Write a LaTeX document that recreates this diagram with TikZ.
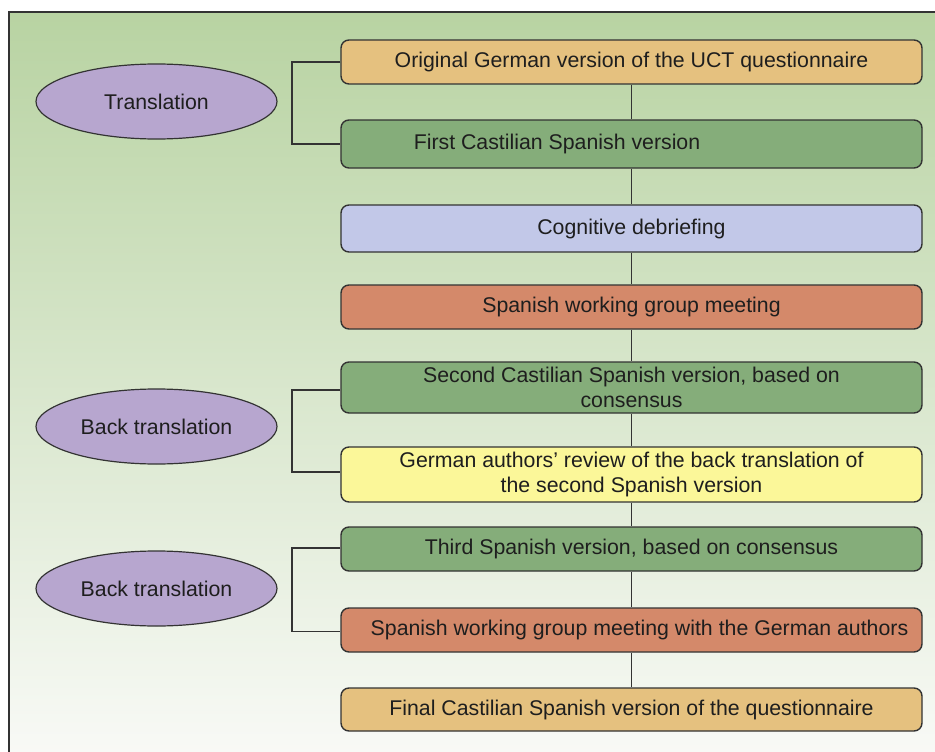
\documentclass[tikz,border=0pt]{standalone}
\usepackage{fontspec}
\setmainfont{Liberation Sans}
\usetikzlibrary{shapes.geometric}
\definecolor{bgtop}{HTML}{B8D3A2}
\definecolor{bgbot}{HTML}{F9FAF7}
\definecolor{cOrange}{HTML}{E5C17F}
\definecolor{cGreen}{HTML}{85AD7A}
\definecolor{cBlue}{HTML}{C2C8E8}
\definecolor{cSalmon}{HTML}{D4896A}
\definecolor{cYellow}{HTML}{FBF799}
\definecolor{cLilac}{HTML}{B7A6CF}
\definecolor{cLine}{HTML}{333333}
\definecolor{cText}{HTML}{1E1E1E}
\begin{document}
\begin{tikzpicture}[x=1pt,y=-1pt,
  stepbox/.style={draw=cLine,line width=1.4pt,rounded corners=8pt,minimum width=581pt,
    inner sep=0pt,align=center,text=cText,font=\fontsize{21.3}{25}\selectfont},
  oval/.style={ellipse,draw=cLine,line width=1.2pt,fill=cLilac,minimum width=241pt,minimum height=75pt,
    inner sep=0pt,text=cText,font=\fontsize{21.3}{25}\selectfont},
  link/.style={draw=cLine,line width=1.2pt}]
\useasboundingbox (0,0) rectangle (935,752);
\clip (0,0) rectangle (935,752);
\fill[white] (0,0) rectangle (935,752);
\fill[top color=bgtop,bottom color=bgbot] (9,12) rectangle (945,762);
\draw[cLine,line width=1.4pt] (9,762) -- (9,12) -- (945,12);

\node[stepbox,fill=cOrange,minimum height=44pt] (b1) at (631.5,62) {Original German version of the UCT questionnaire};
\node[stepbox,fill=cGreen,minimum height=48pt] (b2) at (631.5,144) {First Castilian Spanish version\hspace*{149pt}};
\node[stepbox,fill=cBlue,minimum height=47pt] (b3) at (631.5,228.5) {Cognitive debriefing};
\node[stepbox,fill=cSalmon,minimum height=44pt] (b4) at (631.5,307) {Spanish working group meeting};
\node[stepbox,fill=cGreen,minimum height=51pt] (b5) at (631.5,387.5) {Second Castilian Spanish version, based on\\consensus};
\node[stepbox,fill=cYellow,minimum height=55pt] (b6) at (631.5,474.5) {German authors’ review of the back translation of\\the second Spanish version};
\node[stepbox,fill=cGreen,minimum height=44pt] (b7) at (631.5,549) {Third Spanish version, based on consensus};
\node[stepbox,fill=cSalmon,minimum height=44pt] (b8) at (631.5,630) {\hspace*{16pt}Spanish working group meeting with the German authors};
\node[stepbox,fill=cOrange,minimum height=43pt] (b9) at (631.5,709.5) {Final Castilian Spanish version of the questionnaire};

\foreach \a/\b in {b1/b2,b2/b3,b3/b4,b4/b5,b5/b6,b6/b7,b7/b8,b8/b9}
  \draw[link] (\a.south) -- (\b.north);

\draw[link] (b1.west) -| (292,100) |- (b2.west);
\draw[link] ([yshift=-2.5pt]b5.west) -| (292,430) |- ([yshift=2.5pt]b6.west);
\draw[link] ([yshift=1pt]b7.west) -| (292,590) |- ([yshift=-1.5pt]b8.west);

\node[oval] (e1) at (156.5,101.5) {Translation};
\node[oval] (e2) at (156.5,426.5) {Back translation};
\node[oval] (e3) at (156.5,588.5) {Back translation};
\end{tikzpicture}
\end{document}
